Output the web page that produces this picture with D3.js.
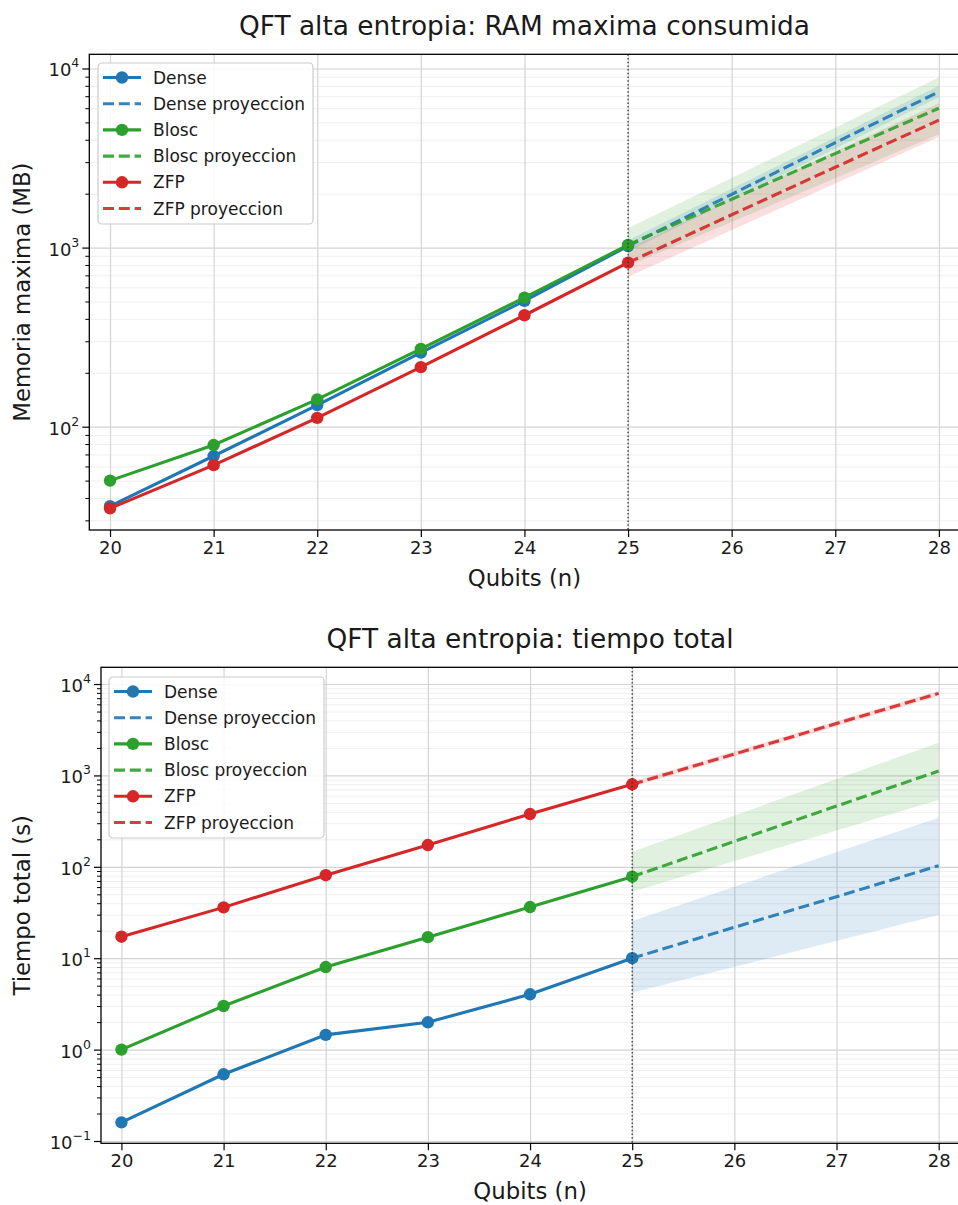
<!DOCTYPE html>
<html><head><meta charset="utf-8">
<script src="https://cdn.jsdelivr.net/npm/d3@7"></script>
<style>
body{margin:0;background:#fff}
svg{display:block}
text{font-family:"DejaVu Sans",sans-serif;fill:#1a1a1a}
</style>
</head><body>
<svg id="c" width="958" height="1205"></svg>
<script>
// ---------- data ----------
const qubits = [20, 21, 22, 23, 24, 25];
const projQubits = [25, 26, 27, 28];
const bandQubits = [25, 28];
const xTickValues = [20, 21, 22, 23, 24, 25, 26, 27, 28];
const seriesNames = ["Dense", "Blosc", "ZFP"];
const projSuffix = " proyeccion";

// RAM maxima (MB)
const ramDense = [36, 68.6, 132, 259, 504, 1020];
const ramBlosc = [50, 79, 142, 272, 525, 1035];
const ramZfp   = [35, 61, 112, 215, 419, 824];
const ramDenseProj = [1020, 1983, 3850, 7410];
const ramBloscProj = [1035, 1862, 3350, 6000];
const ramZfpProj   = [824, 1525, 2810, 5150];
const ramDenseLow  = [950, 6900];
const ramDenseHigh = [1100, 8000];
const ramBloscLow  = [790, 4300];
const ramBloscHigh = [1283, 8900];
const ramZfpLow    = [687, 4150];
const ramZfpHigh   = [990, 6400];

// Tiempo total (s)
const timeDense = [0.16, 0.537, 1.45, 1.99, 4.03, 10];
const timeBlosc = [1.0, 3.0, 8.0, 17, 36.3, 78];
const timeZfp   = [17.2, 36, 81, 173, 378, 800];
const timeDenseProj = [10, 21.8, 47, 103];
const timeBloscProj = [78, 190, 462, 1117];
const timeZfpProj   = [800, 1714, 3700, 7900];
const timeDenseLow  = [4.19, 29.7];
const timeDenseHigh = [25.5, 344];
const timeBloscLow  = [53.5, 538];
const timeBloscHigh = [146, 2280];
const timeZfpLow    = [745, 7350];
const timeZfpHigh   = [855, 8450];

const colors = ["#1f77b4", "#2ca02c", "#d62728"];

const svg = d3.select("#c");

function supLabel(sel, v) {
  const e = Math.round(Math.log10(v));
  sel.text(null);
  sel.append("tspan").text("10");
  sel.append("tspan").attr("dy", -9).attr("font-size", 12.5)
     .text(e < 0 ? "\u2212" + Math.abs(e) : String(e));
}

function panel(o) {
  const g = svg.append("g");
  const x = d3.scaleLinear().domain([19.8, 28.2]).range([o.left, o.right]);
  const y = d3.scaleLog().domain(o.yDomain).range([o.bottom, o.top]);
  const W = o.right - o.left, H = o.bottom - o.top;

  const k0 = Math.floor(Math.log10(o.yDomain[0])), k1 = Math.ceil(Math.log10(o.yDomain[1]));
  const majors = [], minors = [];
  for (let k = k0; k <= k1; k++) {
    const p = Math.pow(10, k);
    if (p >= o.yDomain[0] && p <= o.yDomain[1]) majors.push(p);
    for (let m = 2; m <= 9; m++) {
      const v = m * p;
      if (v >= o.yDomain[0] && v <= o.yDomain[1]) minors.push(v);
    }
  }

  // grids
  const gm = g.append("g").attr("transform", `translate(${o.left},0)`)
    .call(d3.axisLeft(y).tickValues(minors).tickSize(-W).tickFormat(""));
  gm.select(".domain").remove();
  gm.selectAll("line").attr("stroke", "#efefef").attr("stroke-width", 1);
  const gM = g.append("g").attr("transform", `translate(${o.left},0)`)
    .call(d3.axisLeft(y).tickValues(majors).tickSize(-W).tickFormat(""));
  gM.select(".domain").remove();
  gM.selectAll("line").attr("stroke", "#d4d4d4").attr("stroke-width", 1.2);
  const gX = g.append("g").attr("transform", `translate(0,${o.bottom})`)
    .call(d3.axisBottom(x).tickValues(xTickValues).tickSize(-H).tickFormat(""));
  gX.select(".domain").remove();
  gX.selectAll("line").attr("stroke", "#d4d4d4").attr("stroke-width", 1.2);

  const line = d3.line().x(d => x(d[0])).y(d => y(d[1]));
  const area = d3.area().x(d => x(d[0])).y0(d => y(d[1])).y1(d => y(d[2]));

  // bands
  o.series.forEach((s, i) => {
    g.append("path").datum(bandQubits.map((q, j) => [q, s.low[j], s.high[j]]))
      .attr("d", area).attr("fill", colors[i]).attr("fill-opacity", 0.15);
  });
  // lines
  o.series.forEach((s, i) => {
    g.append("path").datum(qubits.map((q, j) => [q, s.vals[j]]))
      .attr("d", line).attr("fill", "none").attr("stroke", colors[i]).attr("stroke-width", 3.1);
    g.selectAll(null).data(qubits.map((q, j) => [q, s.vals[j]])).enter().append("circle")
      .attr("cx", d => x(d[0])).attr("cy", d => y(d[1])).attr("r", 6.2).attr("fill", colors[i]);
    g.append("path").datum(projQubits.map((q, j) => [q, s.proj[j]]))
      .attr("d", line).attr("fill", "none").attr("stroke", colors[i]).attr("stroke-opacity", 0.9)
      .attr("stroke-width", 3.1).attr("stroke-dasharray", "11,4.8");
  });
  // vertical dotted line at 25
  g.append("line").attr("x1", x(25)).attr("x2", x(25)).attr("y1", o.top).attr("y2", o.bottom)
    .attr("stroke", "#333").attr("stroke-opacity", 0.85).attr("stroke-width", 1.5)
    .attr("stroke-dasharray", "1.5,2.2");

  // spines
  g.append("rect").attr("x", o.left).attr("y", o.top).attr("width", W).attr("height", H)
    .attr("fill", "none").attr("stroke", "#000").attr("stroke-width", 1.3);

  // x axis ticks
  const ax = g.append("g").attr("transform", `translate(0,${o.bottom})`)
    .call(d3.axisBottom(x).tickValues(xTickValues).tickSize(7).tickPadding(4).tickFormat(d3.format("d")));
  ax.select(".domain").remove();
  ax.selectAll("line").attr("stroke", "#000").attr("stroke-width", 1.2);
  ax.selectAll("text").attr("font-size", 18).attr("font-family", '"DejaVu Sans",sans-serif').attr("fill", "#1a1a1a");

  // y axis minor ticks
  const aym = g.append("g").attr("transform", `translate(${o.left},0)`)
    .call(d3.axisLeft(y).tickValues(minors).tickSize(4).tickFormat(""));
  aym.select(".domain").remove();
  aym.selectAll("line").attr("stroke", "#000").attr("stroke-width", 1);
  // y axis major ticks
  const ay = g.append("g").attr("transform", `translate(${o.left},0)`)
    .call(d3.axisLeft(y).tickValues(majors).tickSize(7).tickPadding(3));
  ay.select(".domain").remove();
  ay.selectAll("line").attr("stroke", "#000").attr("stroke-width", 1.2);
  ay.selectAll("text").attr("font-size", 18).attr("font-family", '"DejaVu Sans",sans-serif')
    .attr("fill", "#1a1a1a").attr("dy", null).attr("y", 7.5)
    .each(function(d) { supLabel(d3.select(this), d); });

  // titles and labels
  g.append("text").attr("x", (o.left + o.right) / 2).attr("y", o.top - 19.5)
    .attr("text-anchor", "middle").attr("font-size", 26.4).text(o.title);
  g.append("text").attr("x", (o.left + o.right) / 2).attr("y", o.bottom + 56)
    .attr("text-anchor", "middle").attr("font-size", 22.8).text("Qubits (n)");
  g.append("text").attr("transform", `translate(30,${(o.top + o.bottom) / 2}) rotate(-90)`)
    .attr("text-anchor", "middle").attr("font-size", 22.8).text(o.ylabel);

  // legend
  const lg = g.append("g").attr("transform", `translate(${o.legX},${o.legY})`);
  lg.append("rect").attr("x", 0).attr("y", 0).attr("width", 215).attr("height", 161).attr("rx", 4)
    .attr("fill", "#fff").attr("fill-opacity", 0.85).attr("stroke", "#cccccc").attr("stroke-width", 1.2);
  const entries = [];
  seriesNames.forEach((n, i) => {
    entries.push({label: n, color: colors[i], dashed: false});
    entries.push({label: n + projSuffix, color: colors[i], dashed: true});
  });
  entries.forEach((e, i) => {
    const ry = 14.5 + i * 26.2;
    const l = lg.append("line").attr("x1", 5).attr("x2", 43).attr("y1", ry).attr("y2", ry)
      .attr("stroke", e.color).attr("stroke-width", 3.1);
    if (e.dashed) l.attr("stroke-dasharray", "11,4.8").attr("stroke-opacity", 0.9);
    else lg.append("circle").attr("cx", 24).attr("cy", ry).attr("r", 6.2).attr("fill", e.color);
    lg.append("text").attr("x", 55).attr("y", ry + 6).attr("font-size", 17).text(e.label);
  });
}

panel({
  left: 89.3, right: 959.6, top: 54.3, bottom: 530,
  yDomain: [26.5, 12000],
  title: "QFT alta entropia: RAM maxima consumida",
  ylabel: "Memoria maxima (MB)",
  legX: 98, legY: 63,
  series: [
    {vals: ramDense, proj: ramDenseProj, low: ramDenseLow, high: ramDenseHigh},
    {vals: ramBlosc, proj: ramBloscProj, low: ramBloscLow, high: ramBloscHigh},
    {vals: ramZfp, proj: ramZfpProj, low: ramZfpLow, high: ramZfpHigh}
  ]
});

panel({
  left: 101, right: 959.1, top: 667.3, bottom: 1143.3,
  yDomain: [0.0944, 15240],
  title: "QFT alta entropia: tiempo total",
  ylabel: "Tiempo total (s)",
  legX: 109, legY: 677,
  series: [
    {vals: timeDense, proj: timeDenseProj, low: timeDenseLow, high: timeDenseHigh},
    {vals: timeBlosc, proj: timeBloscProj, low: timeBloscLow, high: timeBloscHigh},
    {vals: timeZfp, proj: timeZfpProj, low: timeZfpLow, high: timeZfpHigh}
  ]
});
</script>
</body></html>
